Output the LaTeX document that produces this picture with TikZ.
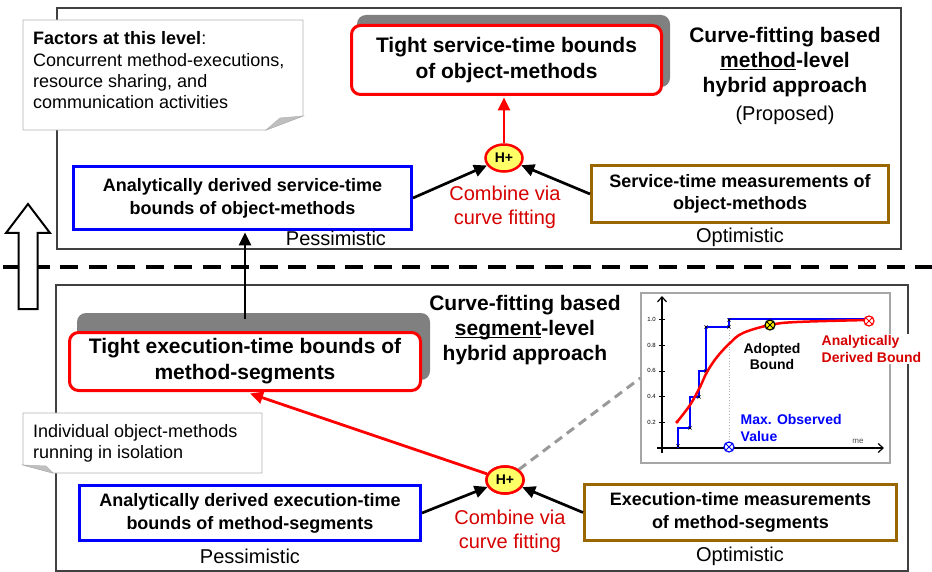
\documentclass[tikz,border=0pt]{standalone}
\usepackage{fontspec}
\setmainfont{Liberation Sans}
\usetikzlibrary{arrows.meta,shapes.geometric,calc}
\definecolor{brownc}{RGB}{153,102,0}
\definecolor{combred}{RGB}{214,0,0}
\definecolor{shadowg}{RGB}{128,128,128}
\definecolor{hyel}{RGB}{255,255,102}
\newcommand\ulword[1]{\underline{\smash{#1}}}
\tikzset{
  fr/.style={draw=black!75,line width=1.2pt},
  notebox/.style={draw=black!30,fill=white,line width=0.8pt},
  notefold/.style={fill=black!25,draw=black!30,line width=0.5pt},
  notetext/.style={anchor=north west,inner sep=0pt,align=left,font=\fontsize{18}{21.3}\selectfont},
  shadowbox/.style={fill=shadowg,rounded corners=9pt},
  redbox/.style={draw=red,line width=3pt,fill=white,rounded corners=9pt,align=center,inner sep=0pt,font=\fontsize{21}{26}\selectfont\bfseries},
  bluebox/.style={draw=blue,line width=3pt,fill=white,align=center,inner sep=0pt,font=\fontsize{18}{23}\selectfont\bfseries},
  brownbox/.style={draw=brownc,line width=3pt,fill=white,align=center,inner sep=0pt,font=\fontsize{18}{22.5}\selectfont\bfseries},
  hplus/.style={ellipse,draw=red,fill=hyel,line width=2.5pt,minimum width=37pt,minimum height=27pt,inner sep=0pt,font=\fontsize{14}{14}\selectfont\bfseries},
  combine/.style={text=combred,align=center,font=\fontsize{20}{24}\selectfont},
  lbl/.style={font=\fontsize{20}{24}\selectfont},
  heading/.style={align=center,font=\fontsize{21}{25}\selectfont\bfseries},
  blk/.style={line width=2.7pt,-{Triangle[length=13pt,width=12pt]}},
  redarr/.style={draw=red,line width=2.8pt,-{Triangle[length=13pt,width=12pt]}},
  glbl/.style={font=\fontsize{14}{16.5}\selectfont\bfseries,inner sep=1.5pt},
  ticklbl/.style={anchor=east,inner sep=0pt,font=\fontsize{6}{6}\selectfont},
  omark/.style={circle,line width=1.2pt,minimum size=10pt,inner sep=0pt},
  axis/.style={line width=1.2pt,-{Straight Barb[length=5pt,width=9pt]}}
}
\begin{document}
\begin{tikzpicture}[x=1pt,y=-1pt]
\useasboundingbox (0,0) rectangle (932,572);
% frames
\draw[fr] (57,8) rectangle (901,249);
\draw[fr] (56,285) rectangle (908,571);
% level separator
\draw[line width=3.5pt,dash pattern=on 18pt off 10.5pt,dash phase=25.5pt] (0,267) -- (932,267);
% hollow upward arrow
\draw[line width=2pt,fill=white,line join=miter] (18.5,309) -- (37.5,309) -- (37.5,233) -- (50,233) -- (28,204) -- (6,233) -- (18.5,233) -- cycle;
% notes
\draw[notebox] (23,20) -- (303,20) -- (303,116) -- (266,130) -- (23,130) -- cycle;
\draw[notefold] (266,130) -- (303,116) -- (280,118) -- cycle;
\node[notetext] (n1) at (33,31.5) {\textbf{Factors at this level}:\\Concurrent method-executions,\\resource sharing, and\\communication activities};
\draw[notebox] (23,413) -- (262,413) -- (262,473) -- (53,473) -- (23,465) -- cycle;
\draw[notefold] (23,465) -- (53,473) -- (46,466) -- cycle;
\node[notetext] (n2) at (33,424) {Individual object-methods\\running in isolation};
% shadows
\fill[shadowbox] (357,15) rectangle (670,87);
\fill[shadowbox] (77,313) rectangle (430,380);
% boxes
\node[redbox,minimum width=310pt,minimum height=69pt] (rt) at (506.5,60) {Tight service-time bounds\\of object-methods};
\node[bluebox,minimum width=338pt,minimum height=63pt] (bt) at (242.5,198) {Analytically derived service-time\\bounds of object-methods};
\node[brownbox,minimum width=297pt,minimum height=57pt] (wt) at (740,194) {Service-time measurements of\\object-methods};
\node[redbox,minimum width=351pt,minimum height=58pt] (rb) at (245,361.5) {Tight execution-time bounds of\\method-segments};
\node[bluebox,minimum width=341pt,minimum height=55pt] (bb) at (250,513) {Analytically derived execution-time\\bounds of method-segments};
\node[brownbox,minimum width=312pt,minimum height=56pt] (wb) at (740.5,512.5) {Execution-time measurements\\of method-segments};
% graph
\node[draw=black!35,line width=1.2pt,fill=white,minimum width=249pt,minimum height=170pt,inner sep=0pt] (gr) at (765.5,378) {};
\coordinate (gl) at (gr.west);
\draw[axis] (662,453) -- (662,296);
\draw[axis] (657,448) -- (884,448);
\foreach \v/\l in {1.0/1.0,0.8/0.8,0.6/0.6,0.4/0.4,0.2/0.2}{
  \draw[line width=0.8pt] (659,448-\v*128.5) -- (665,448-\v*128.5);
  \node[ticklbl] at (656,448-\v*128.5) {\l};
}
\draw[black!30,dotted,line width=0.8pt] (729,327) -- (729,441);
\draw[blue,line width=2.5pt,line join=miter] (678,448) -- (678,428) -- (690,428) -- (690,397) -- (699,397) -- (699,371) -- (706,371) -- (706,327) -- (729,327) -- (729,319) -- (868,319);
\foreach \px/\py in {678/446,690/428,699/397,706/371,706/327,729/327,729/320}{
  \draw[line width=0.6pt] (\px-1.6,\py-1.6) -- (\px+1.6,\py+1.6) (\px-1.6,\py+1.6) -- (\px+1.6,\py-1.6);
}
\draw[red,line width=2.5pt] plot[smooth,tension=0.6] coordinates {(677,422) (690,405) (700,387) (707,372) (717,357) (730,343) (743,333) (770,325) (797,322) (868,320)};
\fill[red] (677,422) circle (1.8pt);
\node[omark,draw=black,fill=yellow] (my) at (770,325) {};
\draw[line width=1pt] (my.north west) -- (my.south east) (my.north east) -- (my.south west);
\node[omark,draw=red,fill=white] (mr) at (869,321) {};
\draw[red,line width=1pt] (mr.north west) -- (mr.south east) (mr.north east) -- (mr.south west);
\node[omark,draw=blue,fill=white] (mb) at (729,447) {};
\draw[blue,line width=1pt] (mb.north west) -- (mb.south east) (mb.north east) -- (mb.south west);
\node[glbl,align=center] (ab) at (772,356.5) {Adopted\\Bound};
\node[glbl,text=combred,align=left,anchor=west,fill=white] (adb) at (820,349) {Analytically\\Derived Bound};
\node[glbl,text=blue,align=left,anchor=west] (mov) at (739,428) {Max. Observed\\Value};
\node[font=\fontsize{8}{8}\selectfont,text=black!70,inner sep=0pt] (me) at (858,441) {me};
% hybrid nodes
\node[hplus] (ht) at (504,158) {H+};
\node[hplus] (hb) at (505,480) {H+};
% connectors
\draw[blk] (bt.east) -- (ht);
\draw[blk] (wt.west) -- (ht);
\draw[blk] (bb.east) -- (hb);
\draw[blk] (wb.west) -- (hb);
\draw[redarr] (ht) -- ($(ht.north |- rt.south)+(0,1.5)$);
\draw[blk] ($(rb.north)+(0,-12)$) -- ($(rb.north |- bt.south)+(0,1.5)$);
\draw[redarr] (hb) -- ($(rb.south)+(5,1.5)$);
\draw[black!40,line width=3pt,dash pattern=on 9pt off 6pt] (hb) -- (gl);
\node[hplus] at (hb) {H+};
% labels
\node[combine] (ct) at (505,207) {Combine via\\curve fitting};
\node[combine] (cb) at (510,531) {Combine via\\curve fitting};
\node[lbl] (pt) at (336,238) {Pessimistic};
\node[lbl] (ot) at (740,237) {Optimistic};
\node[lbl] (pb) at (250,556) {Pessimistic};
\node[lbl] (ob) at (740,556) {Optimistic};
\node[heading] (h1) at (785,62) {Curve-fitting based\\\ulword{method}-level\\hybrid approach};
\node[lbl] (prop) at (785,115) {(Proposed)};
\node[heading] (h2) at (525,330) {Curve-fitting based\\\ulword{segment}-level\\hybrid approach};
\end{tikzpicture}
\end{document}
